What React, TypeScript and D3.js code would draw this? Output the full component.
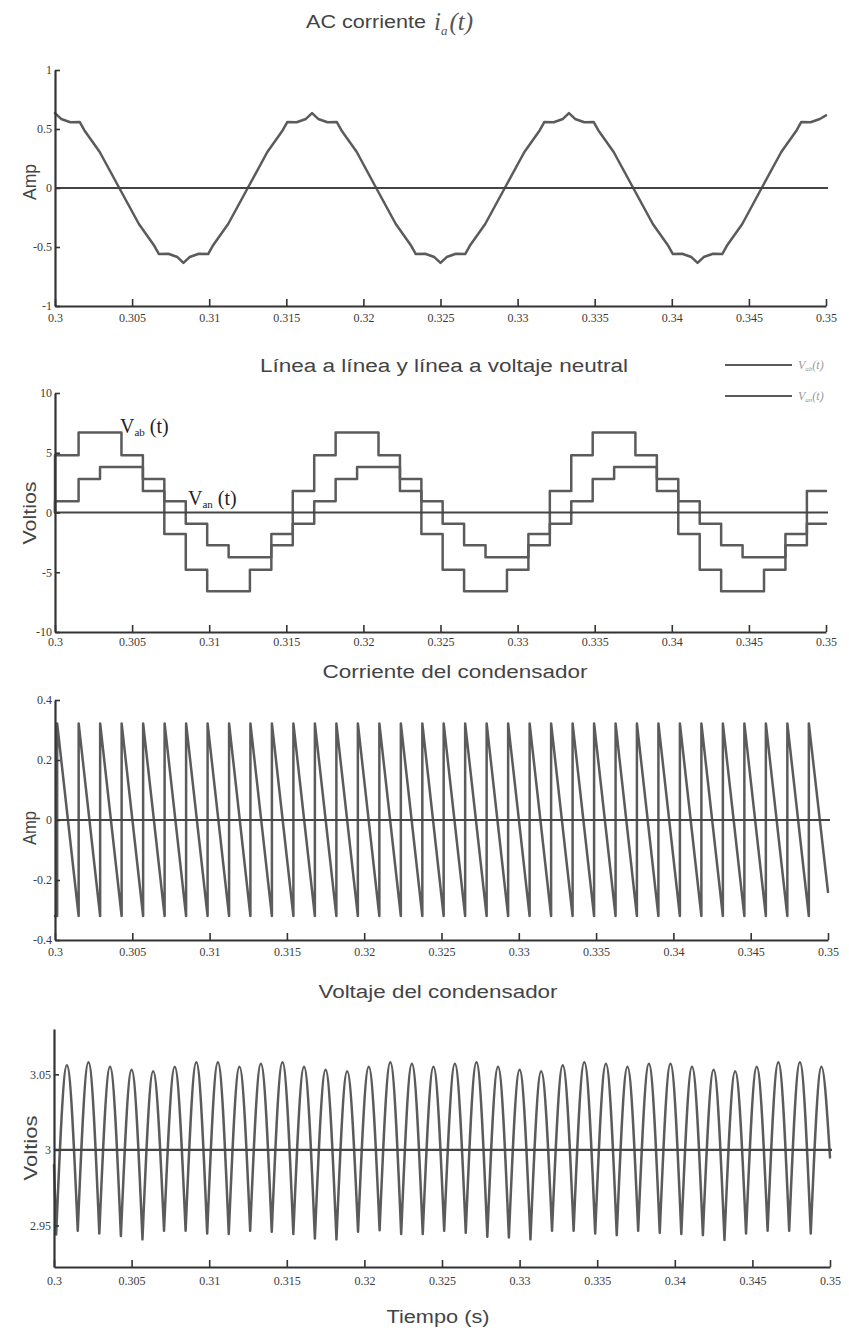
import { useEffect, useRef } from 'react';
import * as d3 from 'd3';

// ticks
const timeTicks = [0.3, 0.305, 0.31, 0.315, 0.32, 0.325, 0.33, 0.335, 0.34, 0.345, 0.35];
const acTicks = [-1, -0.5, 0, 0.5, 1];
const lineTicks = [-10, -5, 0, 5, 10];
const capCurrentTicks = [-0.4, -0.2, 0, 0.2, 0.4];
const capVoltageTicks = [2.95, 3, 3.05];

// AC corriente i_a(t)
const acTimes = [
  0.3, 0.3004, 0.301, 0.3016, 0.3019, 0.3029, 0.30417, 0.30544, 0.30644, 0.30674, 0.30734, 0.30794, 0.30833,
  0.30873, 0.30933, 0.30993, 0.31023, 0.31123, 0.3125, 0.31377, 0.31477, 0.31507, 0.31567, 0.31627, 0.31667,
  0.31707, 0.31767, 0.31827, 0.31857, 0.31957, 0.32083, 0.3221, 0.3231, 0.3234, 0.324, 0.3246, 0.325,
  0.3254, 0.326, 0.3266, 0.3269, 0.3279, 0.32917, 0.33044, 0.33144, 0.33174, 0.33234, 0.33294, 0.33333,
  0.33373, 0.33433, 0.33493, 0.33523, 0.33623, 0.3375, 0.33877, 0.33977, 0.34007, 0.34067, 0.34127, 0.34167,
  0.34207, 0.34267, 0.34327, 0.34357, 0.34457, 0.34583, 0.3471, 0.3481, 0.3484, 0.349, 0.3496, 0.35,
];
const acValues = [
  0.635, 0.585, 0.557, 0.56, 0.49, 0.305, 0, -0.305, -0.49, -0.56, -0.557, -0.585, -0.635,
  -0.585, -0.557, -0.56, -0.49, -0.305, 0, 0.305, 0.49, 0.56, 0.557, 0.585, 0.635,
  0.585, 0.557, 0.56, 0.49, 0.305, 0, -0.305, -0.49, -0.56, -0.557, -0.585, -0.635,
  -0.585, -0.557, -0.56, -0.49, -0.305, 0, 0.305, 0.49, 0.56, 0.557, 0.585, 0.635,
  0.585, 0.557, 0.56, 0.49, 0.305, 0, -0.305, -0.49, -0.56, -0.557, -0.585, -0.635,
  -0.585, -0.557, -0.56, -0.49, -0.305, 0, 0.305, 0.49, 0.56, 0.557, 0.585, 0.615,
];

// Vab(t) escalones (valor desde ese instante)
const vabTimes = [
  0.3, 0.3, 0.30153, 0.30431, 0.3057, 0.30709, 0.30848, 0.30987, 0.31264, 0.31403, 0.31542,
  0.31681, 0.3182, 0.32098, 0.32237, 0.32376, 0.32514, 0.32653, 0.32931, 0.3307, 0.33209,
  0.33348, 0.33487, 0.33764, 0.33903, 0.34042, 0.34181, 0.3432, 0.34598, 0.34737, 0.34876, 0.35,
];
const vabValues = [
  0, 4.8, 6.7, 4.8, 1.8, -1.8, -4.8, -6.6, -4.8, -1.8, 1.8,
  4.8, 6.7, 4.8, 1.8, -1.8, -4.8, -6.6, -4.8, -1.8, 1.8,
  4.8, 6.7, 4.8, 1.8, -1.8, -4.8, -6.6, -4.8, -1.8, 1.8, 1.8,
];

// Van(t) escalones
const vanTimes = [
  0.3, 0.3, 0.30153, 0.30292, 0.3057, 0.30709, 0.30848, 0.30987, 0.31126, 0.31403, 0.31542,
  0.31681, 0.3182, 0.31959, 0.32237, 0.32376, 0.32514, 0.32653, 0.32792, 0.3307, 0.33209,
  0.33348, 0.33487, 0.33626, 0.33903, 0.34042, 0.34181, 0.3432, 0.34459, 0.34737, 0.34876, 0.35,
];
const vanValues = [
  0, 0.95, 2.8, 3.8, 2.8, 0.95, -0.95, -2.75, -3.75, -2.75, -0.95,
  0.95, 2.8, 3.8, 2.8, 0.95, -0.95, -2.75, -3.75, -2.75, -0.95,
  0.95, 2.8, 3.8, 2.8, 0.95, -0.95, -2.75, -3.75, -2.75, -0.95, -0.95,
];

// corriente del condensador: instantes de conmutación (diente de sierra)
const switchTimes = [
  0.30014, 0.30153, 0.30292, 0.30431, 0.3057, 0.30709, 0.30848, 0.30987, 0.31126, 0.31264, 0.31403, 0.31542,
  0.31681, 0.3182, 0.31959, 0.32098, 0.32237, 0.32376, 0.32514, 0.32653, 0.32792, 0.32931, 0.3307, 0.33209,
  0.33348, 0.33487, 0.33626, 0.33764, 0.33903, 0.34042, 0.34181, 0.3432, 0.34459, 0.34598, 0.34737, 0.34876,
];
const capCurrentHigh = 0.322;
const capCurrentLow = -0.32;
const capCurrentEnd: [number, number] = [0.35, -0.24];

// voltaje del condensador: picos y valles (valles en los instantes de conmutación)
const capPeakTimes = [
  0.30083, 0.30222, 0.30361, 0.305, 0.30639, 0.30778, 0.30917, 0.31056, 0.31195, 0.31333, 0.31472, 0.31611,
  0.3175, 0.31889, 0.32028, 0.32167, 0.32306, 0.32445, 0.32583, 0.32722, 0.32861, 0.33, 0.33139, 0.33278,
  0.33417, 0.33556, 0.33695, 0.33833, 0.33972, 0.34111, 0.3425, 0.34389, 0.34528, 0.34667, 0.34806, 0.34945,
];
const capPeakValues = [
  3.056, 3.058, 3.055, 3.053, 3.052, 3.055, 3.058, 3.058, 3.055, 3.057, 3.058, 3.055,
  3.053, 3.052, 3.055, 3.058, 3.057, 3.055, 3.057, 3.058, 3.055, 3.053, 3.052, 3.056,
  3.058, 3.057, 3.055, 3.057, 3.057, 3.055, 3.053, 3.052, 3.055, 3.058, 3.058, 3.055,
];
const capTroughValues = [
  2.944, 2.9465, 2.9447, 2.943, 2.9408, 2.9465, 2.9465, 2.9447, 2.9443, 2.9465, 2.9458, 2.9443,
  2.9414, 2.9408, 2.9458, 2.9469, 2.9443, 2.9443, 2.9465, 2.9452, 2.9425, 2.9421, 2.9408, 2.9465,
  2.9465, 2.9447, 2.9436, 2.9465, 2.9452, 2.9443, 2.9436, 2.9404, 2.9447, 2.9465, 2.9465, 2.9447,
];
const capVoltageStart: [number, number] = [0.3, 2.99];
const capVoltageEnd: [number, number] = [0.35, 2.995];

const W = 849;
const H = 1331;

const frames = [
  { x0: 55, x1: 826, top: 70, bottom: 306, domain: [-1, 1], ticks: acTicks, ref: 0, pad: 7 },
  { x0: 55, x1: 826, top: 393, bottom: 632, domain: [-10, 10], ticks: lineTicks, ref: 0, pad: 5 },
  { x0: 55, x1: 828, top: 700, bottom: 940, domain: [-0.4, 0.4], ticks: capCurrentTicks, ref: 0, pad: 7 },
  { x0: 54, x1: 830, top: 1029, bottom: 1267, domain: [2.9225, 3.08], ticks: capVoltageTicks, ref: 3, pad: 9 },
];

const CURVE = '#5b5b5b';
const AXIS = '#333';
const SANS = '"Liberation Sans", Arial, sans-serif';
const SERIF = '"Liberation Serif", "Times New Roman", serif';

export default function App() {
  const plotRef = useRef<SVGGElement>(null);

  useEffect(() => {
    const root = d3.select(plotRef.current);
    root.selectAll('*').remove();

    const sc = frames.map((f) => {
      const x = d3.scaleLinear().domain([0.3, 0.35]).range([f.x0, f.x1]);
      const y = d3.scaleLinear().domain(f.domain).range([f.bottom, f.top]);
      return { x, y };
    });

    const curve = (g: any, d: string) =>
      g.append('path')
        .attr('d', d)
        .attr('fill', 'none')
        .attr('stroke', CURVE)
        .attr('stroke-width', 2.5)
        .attr('stroke-linejoin', 'round')
        .attr('stroke-linecap', 'round');

    // panel 1: i_a(t)
    {
      const { x, y } = sc[0];
      const line = d3.line<number>().x((_, i) => x(acTimes[i])).y((v) => y(v));
      curve(root, line(acValues) as string);
    }

    // panel 2: Vab y Van
    {
      const { x, y } = sc[1];
      const step = d3.line<[number, number]>().x((d) => x(d[0])).y((d) => y(d[1])).curve(d3.curveStepAfter);
      curve(root, step(vanTimes.map((t, i) => [t, vanValues[i]])) as string);
      curve(root, step(vabTimes.map((t, i) => [t, vabValues[i]])) as string);
    }

    // panel 3: diente de sierra
    {
      const { x, y } = sc[2];
      const pts: [number, number][] = [[0.3, capCurrentLow]];
      switchTimes.forEach((t) => {
        pts.push([t, capCurrentLow], [t, capCurrentHigh]);
      });
      pts.push(capCurrentEnd);
      const line = d3.line<[number, number]>().x((d) => x(d[0])).y((d) => y(d[1]));
      curve(root, line(pts) as string);
    }

    // panel 4: voltaje del condensador
    {
      const { x, y } = sc[3];
      const lin = d3.line<[number, number]>().x((d) => x(d[0])).y((d) => y(d[1]));
      const mono = d3.line<[number, number]>().x((d) => x(d[0])).y((d) => y(d[1])).curve(d3.curveMonotoneX);
      let d = lin([capVoltageStart, [switchTimes[0], capTroughValues[0]]]) as string;
      switchTimes.forEach((t, k) => {
        const next: [number, number] = k < switchTimes.length - 1
          ? [switchTimes[k + 1], capTroughValues[k + 1]]
          : capVoltageEnd;
        d += mono([[t, capTroughValues[k]], [capPeakTimes[k], capPeakValues[k]], next]);
      });
      curve(root, d);
    }

    // líneas de referencia y ejes
    frames.forEach((f, i) => {
      const { x, y } = sc[i];
      root.append('line')
        .attr('x1', f.x0).attr('x2', f.x1 + 2)
        .attr('y1', y(f.ref)).attr('y2', y(f.ref))
        .attr('stroke', '#444').attr('stroke-width', 2.2);

      const xa = root.append('g')
        .attr('transform', `translate(0,${f.bottom})`)
        .call(
          d3.axisBottom(x).tickValues(timeTicks).tickFormat((v) => String(v))
            .tickSizeInner(-7).tickSizeOuter(0).tickPadding(f.pad) as any,
        );
      const ya = root.append('g')
        .attr('transform', `translate(${f.x0},0)`)
        .call(
          d3.axisLeft(y).tickValues(f.ticks).tickFormat((v) => String(v))
            .tickSizeInner(-5).tickSizeOuter(0).tickPadding(3) as any,
        );
      [xa, ya].forEach((a) => {
        a.attr('font-family', SERIF).attr('font-size', 12).attr('color', AXIS);
        a.select('.domain').attr('stroke-width', 2.2);
        a.selectAll('.tick line').attr('stroke-width', 1.6);
        a.selectAll('.tick text').attr('fill', '#3a3a3a');
      });
    });
  }, []);

  const title = { fontFamily: SANS, fill: '#444' } as const;
  const yLabel = (x: number, y: number, text: string, len: number) => (
    <text
      transform={`translate(${x},${y}) rotate(-90)`}
      textAnchor="middle"
      fontFamily={SANS}
      fontSize={19}
      fill="#444"
      textLength={len}
      lengthAdjust="spacingAndGlyphs"
    >
      {text}
    </text>
  );

  return (
    <svg width={W} height={H} style={{ position: 'absolute', left: 0, top: 0, background: '#fff' }}>
      {/* títulos */}
      <text x={306} y={28} fontSize={18} {...title} textLength={120} lengthAdjust="spacingAndGlyphs">
        AC corriente
      </text>
      <text x={434} y={30} fontFamily={SERIF} fontStyle="italic" fontSize={25} fill="#555">
        i
        <tspan fontSize={13} dy={5}>a</tspan>
        <tspan dy={-5} dx={2}>(t)</tspan>
      </text>
      <text x={444} y={372} fontSize={18} textAnchor="middle" {...title} textLength={368} lengthAdjust="spacingAndGlyphs">
        Línea a línea y línea a voltaje neutral
      </text>
      <text x={455} y={678} fontSize={18} textAnchor="middle" {...title} textLength={265} lengthAdjust="spacingAndGlyphs">
        Corriente del condensador
      </text>
      <text x={438} y={998} fontSize={18} textAnchor="middle" {...title} textLength={239} lengthAdjust="spacingAndGlyphs">
        Voltaje del condensador
      </text>
      <text x={438} y={1323} fontSize={18} textAnchor="middle" {...title} textLength={103} lengthAdjust="spacingAndGlyphs">
        Tiempo (s)
      </text>

      {yLabel(36, 182, 'Amp', 36)}
      {yLabel(36, 513, 'Voltios', 63)}
      {yLabel(36, 828, 'Amp', 34)}
      {yLabel(37, 1148, 'Voltios', 65)}

      {/* leyenda */}
      <g stroke={CURVE} strokeWidth={2}>
        <line x1={725} x2={792} y1={365} y2={365} />
        <line x1={725} x2={792} y1={396} y2={396} />
      </g>
      <g fontFamily={SERIF} fontStyle="italic" fontSize={12} fill="#999">
        <text x={798} y={369}>V<tspan fontSize={7} dy={2}>ab</tspan><tspan dy={-2}>(t)</tspan></text>
        <text x={798} y={400}>V<tspan fontSize={7} dy={2}>an</tspan><tspan dy={-2}>(t)</tspan></text>
      </g>

      {/* anotaciones */}
      <g fontFamily={SERIF} fontSize={20} fill="#222">
        <text x={120} y={433}>V<tspan fontSize={11} dy={3}>ab</tspan><tspan dy={-3}> (t)</tspan></text>
        <text x={188} y={505}>V<tspan fontSize={11} dy={3}>an</tspan><tspan dy={-3}> (t)</tspan></text>
      </g>

      <g ref={plotRef} />
    </svg>
  );
}
